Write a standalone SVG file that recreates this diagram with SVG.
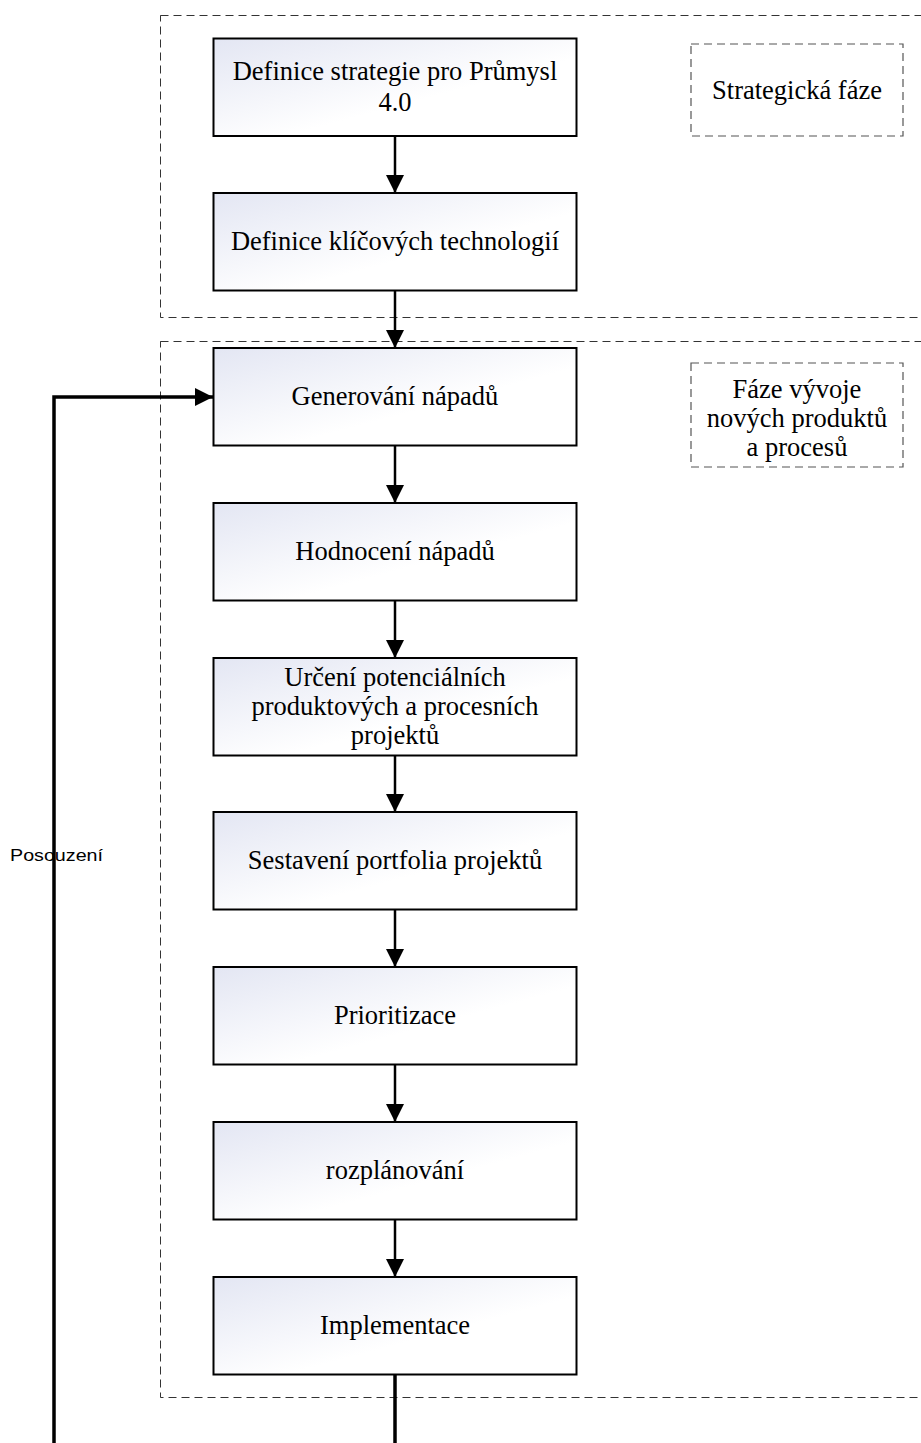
<svg xmlns="http://www.w3.org/2000/svg" width="921" height="1443" viewBox="0 0 921 1443">
<defs>
<linearGradient id="g" x1="0" y1="0" x2="1" y2="1">
<stop offset="0" stop-color="#e3e6f3"/>
<stop offset="0.6" stop-color="#ffffff"/>
<stop offset="1" stop-color="#ffffff"/>
</linearGradient>
<marker id="ah" viewBox="0 0 18 18" refX="18" refY="9" markerWidth="18" markerHeight="18" markerUnits="userSpaceOnUse" orient="auto">
<path d="M0,0 L18,9 L0,18 Z" fill="#000"/>
</marker>
</defs>
<style>
.node rect{fill:url(#g);stroke:#000;stroke-width:2}
.t{font-family:"Liberation Serif","Times New Roman",serif;font-size:26.5px;fill:#000;text-anchor:middle}
.frame{fill:none;stroke:#333;stroke-width:1;stroke-dasharray:8 5}
.lbl{fill:none;stroke:#555;stroke-width:1.2;stroke-dasharray:8 5}
.c{fill:none;stroke:#000;stroke-width:2.5}
.ct{fill:none;stroke:#000;stroke-width:3.5}
.s{font-family:"Liberation Sans",Arial,sans-serif;font-size:17px;fill:#000}
</style>
<g id="phases">
<rect class="frame" x="160.5" y="15.5" width="780" height="302"/>
<rect class="frame" x="160.5" y="341.5" width="780" height="1056"/>
</g>
<g id="label-strategic">
<rect class="lbl" x="691" y="44" width="212" height="92"/>
<text class="t" x="797" y="99">Strategická fáze</text>
</g>
<g id="label-dev">
<rect class="lbl" x="691" y="363" width="212" height="104"/>
<text class="t" x="797" y="398">Fáze vývoje</text>
<text class="t" x="797" y="427">nových produktů</text>
<text class="t" x="797" y="456">a procesů</text>
</g>
<g id="connectors">
<line class="c" x1="395" y1="136" x2="395" y2="193" marker-end="url(#ah)"/>
<line class="c" x1="395" y1="291" x2="395" y2="348" marker-end="url(#ah)"/>
<line class="c" x1="395" y1="446" x2="395" y2="503" marker-end="url(#ah)"/>
<line class="c" x1="395" y1="601" x2="395" y2="658" marker-end="url(#ah)"/>
<line class="c" x1="395" y1="756" x2="395" y2="812" marker-end="url(#ah)"/>
<line class="c" x1="395" y1="910" x2="395" y2="967" marker-end="url(#ah)"/>
<line class="c" x1="395" y1="1065" x2="395" y2="1122" marker-end="url(#ah)"/>
<line class="c" x1="395" y1="1220" x2="395" y2="1277" marker-end="url(#ah)"/>
<line class="ct" x1="395" y1="1375" x2="395" y2="1443"/>
<polyline class="ct" points="54,1443 54,397 213,397" marker-end="url(#ah)"/>
<text class="s" x="10" y="861" textLength="93" lengthAdjust="spacingAndGlyphs">Posouzení</text>
</g>
<g id="n1" class="node">
<rect x="213.5" y="38.5" width="363" height="97.5"/>
<text class="t" x="395" y="80">Definice strategie pro Průmysl</text>
<text class="t" x="395" y="111">4.0</text>
</g>
<g id="n2" class="node">
<rect x="213.5" y="193" width="363" height="97.5"/>
<text class="t" x="395" y="250">Definice klíčových technologií</text>
</g>
<g id="n3" class="node">
<rect x="213.5" y="348" width="363" height="97.5"/>
<text class="t" x="395" y="405">Generování nápadů</text>
</g>
<g id="n4" class="node">
<rect x="213.5" y="503" width="363" height="97.5"/>
<text class="t" x="395" y="560">Hodnocení nápadů</text>
</g>
<g id="n5" class="node">
<rect x="213.5" y="658" width="363" height="97.5"/>
<text class="t" x="395" y="686">Určení potenciálních</text>
<text class="t" x="395" y="715">produktových a procesních</text>
<text class="t" x="395" y="744">projektů</text>
</g>
<g id="n6" class="node">
<rect x="213.5" y="812" width="363" height="97.5"/>
<text class="t" x="395" y="869">Sestavení portfolia projektů</text>
</g>
<g id="n7" class="node">
<rect x="213.5" y="967" width="363" height="97.5"/>
<text class="t" x="395" y="1024">Prioritizace</text>
</g>
<g id="n8" class="node">
<rect x="213.5" y="1122" width="363" height="97.5"/>
<text class="t" x="395" y="1179">rozplánování</text>
</g>
<g id="n9" class="node">
<rect x="213.5" y="1277" width="363" height="97.5"/>
<text class="t" x="395" y="1334">Implementace</text>
</g>
</svg>
